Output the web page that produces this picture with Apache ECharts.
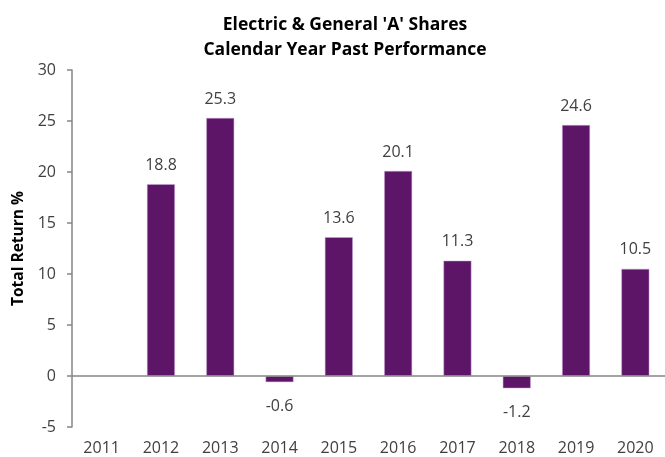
<!DOCTYPE html>
<html>
<head>
<meta charset="utf-8">
<script src="https://cdn.jsdelivr.net/npm/echarts@6/dist/echarts.min.js"></script>
<style>
html,body{margin:0;padding:0;background:#fff;}
#chart{width:665px;height:457px;}
</style>
</head>
<body>
<div id="chart"></div>
<script>
var categories = ['2011','2012','2013','2014','2015','2016','2017','2018','2019','2020'];
var totalReturn = [null, 18.8, 25.3, -0.6, 13.6, 20.1, 11.3, -1.2, 24.6, 10.5];
var titleLines = ['Electric & General \'A\' Shares', 'Calendar Year Past Performance'];
var yAxisName = 'Total Return %';

var FONT = 'Open Sans';
var chart = echarts.init(document.getElementById('chart'));
chart.setOption({
  animation: false,
  backgroundColor: '#ffffff',
  title: {
    text: titleLines.join('\n'),
    left: 340,
    textAlign: 'center',
    top: 8,
    textStyle: { fontFamily: FONT, fontWeight: 'bold', fontSize: 17.5, color: '#000000', lineHeight: 25 }
  },
  grid: { left: 72, right: -8, top: 70, bottom: 30 },
  xAxis: {
    type: 'category',
    data: categories,
    axisLine: { show: false, onZero: false },
    axisTick: { show: false },
    axisLabel: { fontFamily: FONT, fontSize: 16, color: '#404040', margin: 13 },
    splitLine: { show: false }
  },
  yAxis: {
    type: 'value',
    min: -5, max: 30, interval: 5,
    name: yAxisName,
    nameLocation: 'middle',
    nameGap: 44,
    nameTextStyle: { fontFamily: FONT, fontWeight: 'bold', fontSize: 15.5, color: '#000000' },
    axisLine: { show: true, lineStyle: { color: '#868686', width: 1.5 } },
    axisTick: { show: true, inside: false, length: 5, lineStyle: { color: '#868686', width: 1.5 } },
    axisLabel: { fontFamily: FONT, fontSize: 16, color: '#404040', margin: 16 },
    splitLine: { show: false }
  },
  series: [{
    type: 'bar',
    data: totalReturn.map(function (v) {
      return v === null ? null : {
        value: v,
        label: { position: v < 0 ? 'bottom' : 'top', distance: v < 0 ? 16 : 11 }
      };
    }),
    barWidth: '47%',
    itemStyle: { color: '#5d1568', borderColor: '#c8a3d6', borderWidth: 0.5 },
    label: {
      show: true,
      fontFamily: FONT, fontSize: 16, color: '#404040',
      formatter: function (p) { return p.value == null ? '' : p.value.toFixed(1); }
    },
    markLine: {
      silent: true,
      symbol: 'none',
      label: { show: false },
      lineStyle: { color: '#868686', width: 1.5, type: 'solid' },
      data: [{ yAxis: 0 }]
    }
  }]
});
</script>
</body>
</html>
